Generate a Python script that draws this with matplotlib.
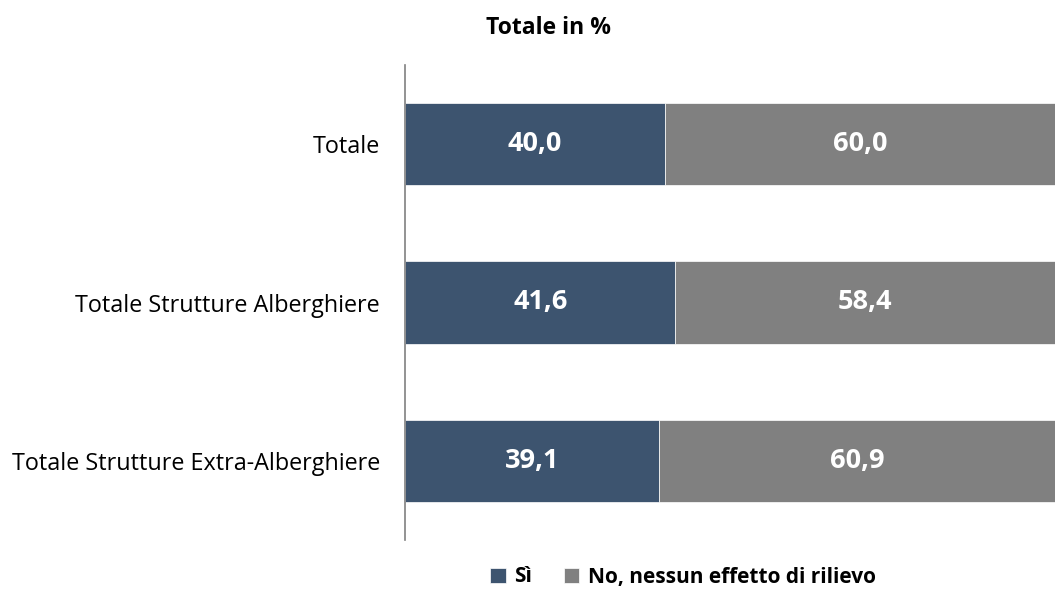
import matplotlib
matplotlib.use("Agg")
import matplotlib.pyplot as plt
import numpy as np

plt.rcParams['font.family'] = ['Open Sans', 'DejaVu Sans']

categories = ["Totale", "Totale Strutture Alberghiere", "Totale Strutture Extra-Alberghiere"]
si = [40.0, 41.6, 39.1]
no = [60.0, 58.4, 60.9]
series_labels = ["Sì", "No, nessun effetto di rilievo"]
title = "Totale in %"

c_si = "#3D546F"
c_no = "#808080"

fig = plt.figure(figsize=(10.55, 5.94), dpi=100)
ax = fig.add_axes([405/1055, 1-540/594, 1-405/1055, (540-65)/594])

y = np.arange(len(categories))
b1 = ax.barh(y, si, height=0.52, color=c_si, label=series_labels[0], edgecolor='white', linewidth=0.5)
b2 = ax.barh(y, no, left=si, height=0.52, color=c_no, label=series_labels[1], edgecolor='white', linewidth=0.5)

for i in range(len(categories)):
    ax.text(si[i]/2, y[i], f"{si[i]:.1f}".replace('.', ','), ha='center', va='center',
            color='white', fontsize=19.5, fontweight='bold')
    ax.text(si[i] + no[i]/2, y[i], f"{no[i]:.1f}".replace('.', ','), ha='center', va='center',
            color='white', fontsize=19.5, fontweight='bold')

ax.set_xlim(0, 100)
ax.set_ylim(2.5, -0.5)
ax.set_yticks(y)
ax.set_yticklabels(categories, fontsize=16.8)
ax.tick_params(axis='y', length=0, pad=18)
ax.set_xticks([])
for s in ['top', 'right', 'bottom']:
    ax.spines[s].set_visible(False)
ax.spines['left'].set_color('#808080')
ax.spines['left'].set_linewidth(1.2)

fig.text(548/1055, 1-28/594, title, ha='center', va='center', fontsize=16.5, fontweight='bold')

handles = [b1, b2]
fig.legend(handles, series_labels, loc='center', bbox_to_anchor=(683/1055, 1-577/594), ncol=2,
           frameon=False, prop={'weight': 'bold', 'size': 15}, handlelength=0.75, handleheight=0.75,
           handletextpad=0.4, columnspacing=1.5)

fig.savefig("out.png", dpi=100)
